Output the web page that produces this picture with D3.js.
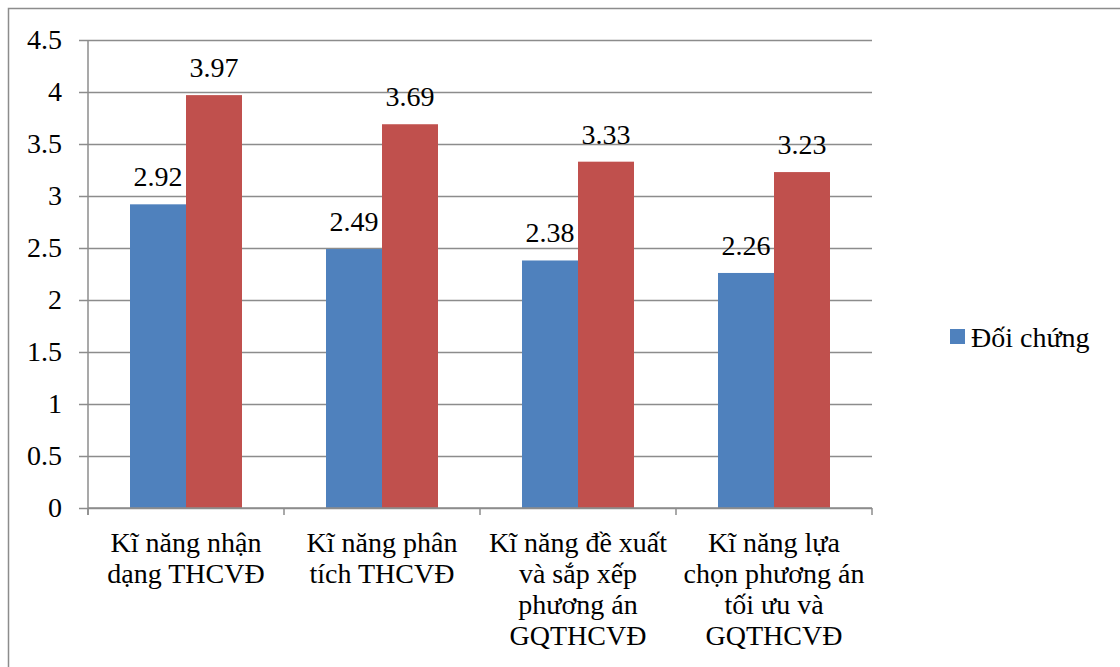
<!DOCTYPE html>
<html>
<head>
<meta charset="utf-8">
<script src="https://cdn.jsdelivr.net/npm/d3@7"></script>
<style>
  html, body { margin: 0; padding: 0; background: #fff; }
  svg { display: block; }
</style>
</head>
<body>
<svg id="chart" width="1120" height="667"></svg>
<script>
const categories = [
  ["Kĩ năng nhận", "dạng THCVĐ"],
  ["Kĩ năng phân", "tích THCVĐ"],
  ["Kĩ năng đề xuất", "và sắp xếp", "phương án", "GQTHCVĐ"],
  ["Kĩ năng lựa", "chọn phương án", "tối ưu và", "GQTHCVĐ"]
];
const seriesNames = ["Đối chứng", "Thực nghiệm"];
const controlValues = [2.92, 2.49, 2.38, 2.26];
const experimentValues = [3.97, 3.69, 3.33, 3.23];
const yTicks = [0, 0.5, 1, 1.5, 2, 2.5, 3, 3.5, 4, 4.5];
const colors = ["#4F81BD", "#C0504D"];
const FONT = "Liberation Serif";
const FS = "28px";

const svg = d3.select("#chart");
const plot = { left: 88, right: 872, top: 40, bottom: 508 };

// outer border (extends beyond view on right/bottom)
svg.append("rect")
  .attr("x", 8.5).attr("y", 8.5)
  .attr("width", 1130).attr("height", 680)
  .attr("fill", "none").attr("stroke", "#8c8c8c").attr("stroke-width", 1.5);

const x = d3.scaleBand()
  .domain(d3.range(categories.length))
  .range([plot.left, plot.right])
  .paddingInner(0).paddingOuter(0);

const inner = d3.scaleBand()
  .domain(d3.range(seriesNames.length))
  .range([0, x.bandwidth()])
  .paddingOuter(0.75).paddingInner(0);

const y = d3.scaleLinear().domain([0, 4.5]).range([plot.bottom, plot.top]);

// gridlines + y tick marks
const yAxis = d3.axisLeft(y)
  .tickValues(yTicks)
  .tickFormat(d => String(d))
  .tickSize(-(plot.right - plot.left))
  .tickPadding(26);
const gy = svg.append("g").attr("transform", `translate(${plot.left},0)`).call(yAxis);
gy.select(".domain").remove();
gy.selectAll(".tick line")
  .attr("x1", -9)
  .attr("stroke", "#8c8c8c").attr("stroke-width", 1.5);
gy.selectAll(".tick text")
  .style("font-family", FONT)
  .style("font-size", FS)
  .attr("fill", "#000");

// bars
const data = categories.map((c, i) => [controlValues[i], experimentValues[i]]);
const groups = svg.append("g").selectAll("g")
  .data(data).join("g")
  .attr("transform", (d, i) => `translate(${x(i)},0)`);

groups.selectAll("rect")
  .data(d => d.map((v, s) => ({ v, s })))
  .join("rect")
  .attr("x", d => inner(d.s))
  .attr("y", d => y(d.v))
  .attr("width", inner.bandwidth())
  .attr("height", d => y(0) - y(d.v))
  .attr("fill", d => colors[d.s]);

groups.selectAll("text.val")
  .data(d => d.map((v, s) => ({ v, s })))
  .join("text")
  .attr("class", "val")
  .attr("x", d => inner(d.s) + inner.bandwidth() / 2)
  .attr("y", d => y(d.v) - 18)
  .attr("text-anchor", "middle")
  .style("font-family", FONT)
  .style("font-size", FS)
  .text(d => d.v.toFixed(2));

// x axis line and ticks
svg.append("line")
  .attr("x1", plot.left).attr("x2", plot.right)
  .attr("y1", plot.bottom).attr("y2", plot.bottom)
  .attr("stroke", "#8c8c8c").attr("stroke-width", 1.5);
svg.append("line")
  .attr("x1", plot.left).attr("x2", plot.left)
  .attr("y1", plot.top).attr("y2", plot.bottom + 7)
  .attr("stroke", "#8c8c8c").attr("stroke-width", 1.5);
const boundaries = d3.range(categories.length + 1).map(i => plot.left + i * x.bandwidth());
svg.append("g").selectAll("line")
  .data(boundaries).join("line")
  .attr("x1", d => d).attr("x2", d => d)
  .attr("y1", plot.bottom).attr("y2", plot.bottom + 7)
  .attr("stroke", "#8c8c8c").attr("stroke-width", 1.5);

// category labels
const cl = svg.append("g").selectAll("text")
  .data(categories).join("text")
  .attr("x", (d, i) => x(i) + x.bandwidth() / 2)
  .attr("y", 552)
  .attr("text-anchor", "middle")
  .style("font-family", FONT)
  .style("font-size", FS);
cl.selectAll("tspan")
  .data(d => d).join("tspan")
  .attr("x", function () { return d3.select(this.parentNode).attr("x"); })
  .attr("dy", (d, i) => i === 0 ? 0 : 31)
  .text(d => d);

// legend (only first series visible)
const lg = svg.append("g").attr("transform", "translate(950,329)");
lg.append("rect").attr("width", 15).attr("height", 15).attr("fill", colors[0]);
lg.append("text").attr("x", 21).attr("y", 18)
  .style("font-family", FONT).style("font-size", FS)
  .text(seriesNames[0]);
</script>
</body>
</html>
